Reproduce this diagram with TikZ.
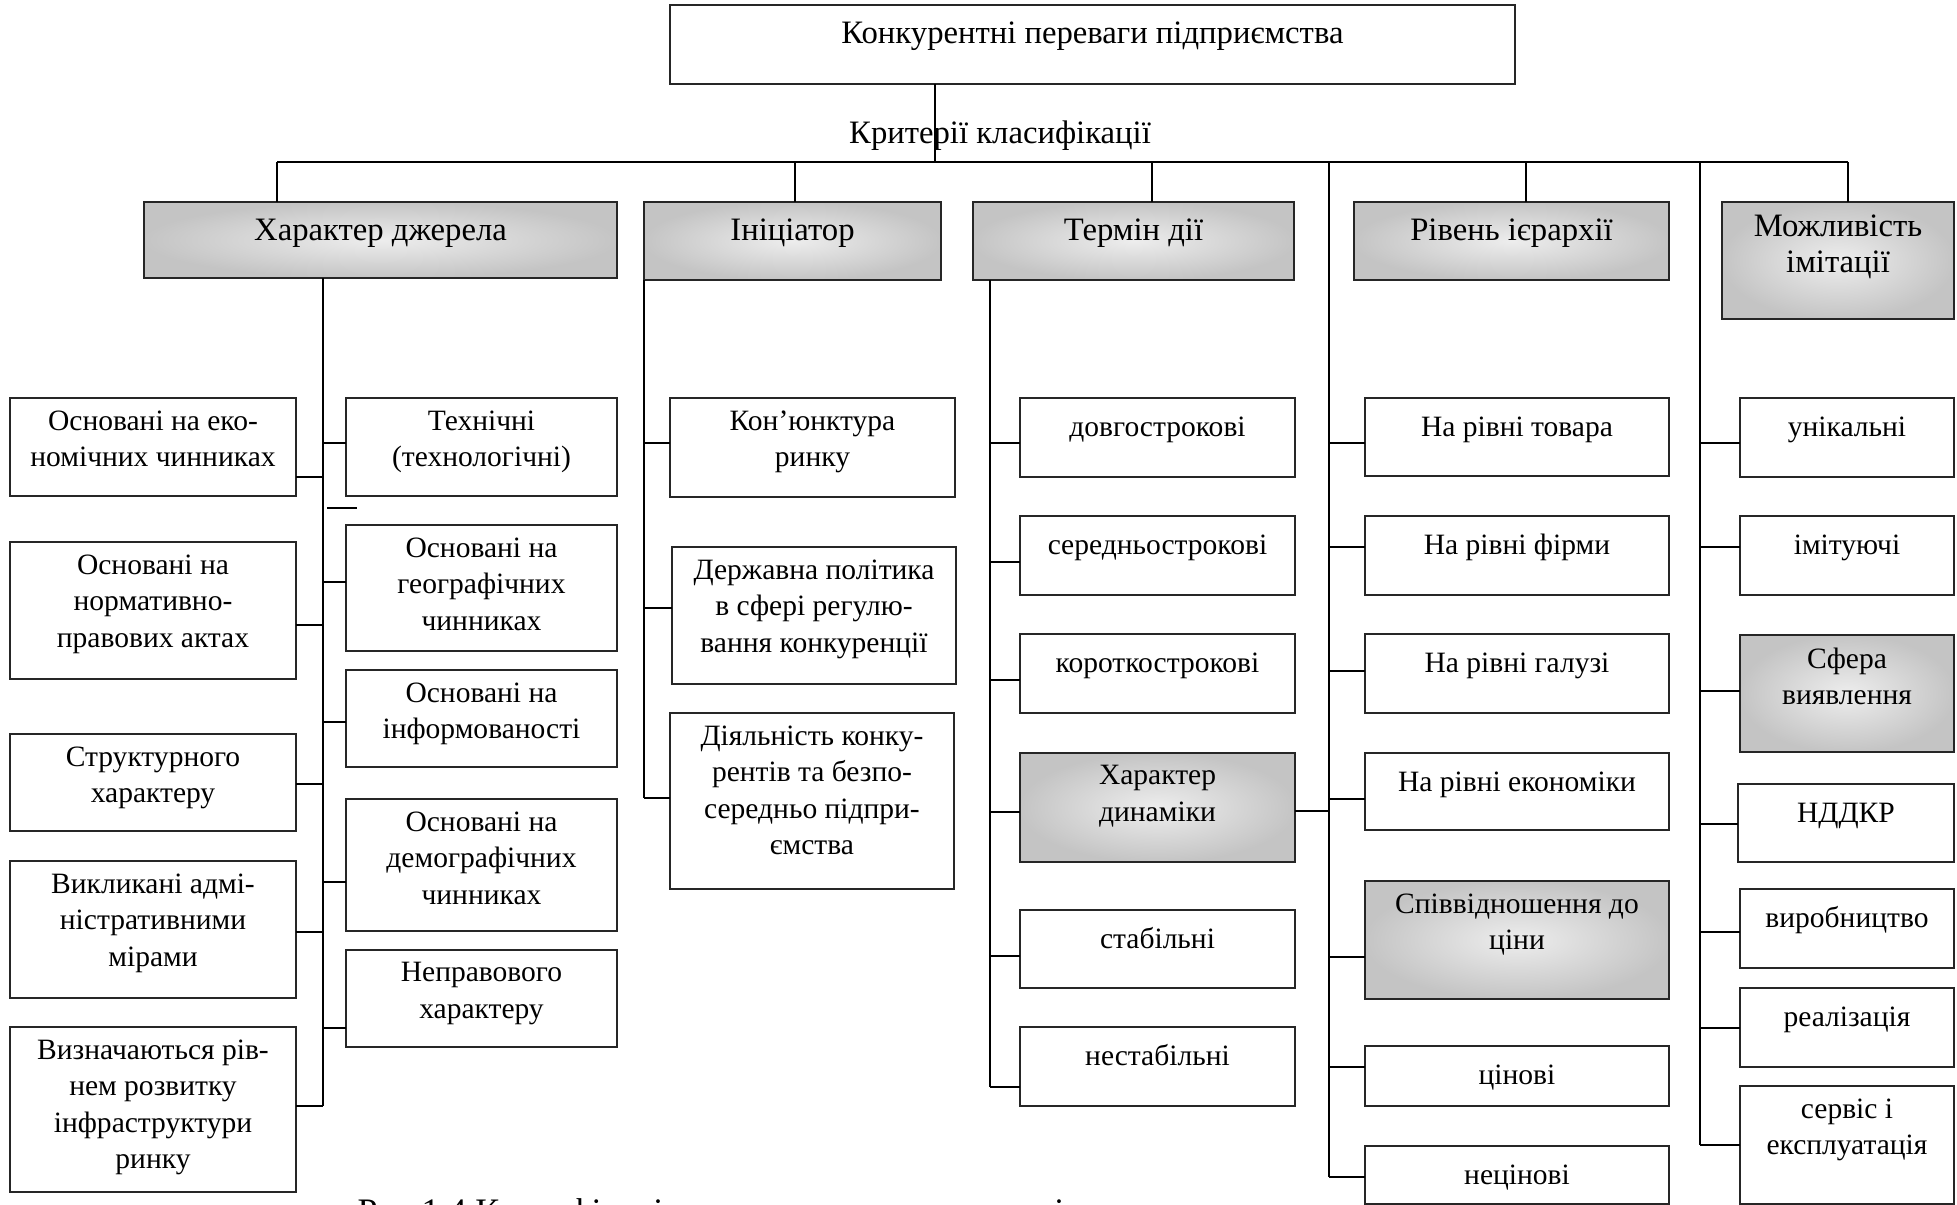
\documentclass[tikz,border=0pt]{standalone}
\usepackage{fontspec}
\setmainfont{Liberation Serif}
\usetikzlibrary{fit}
\tikzset{
  plain/.style={draw=black!85, line width=0.6pt, inner sep=0pt, outer sep=0pt},
  grey/.style={plain, inner color=gray!14, outer color=gray!46},
  txt/.style={font=\fontsize{8.4pt}{10.4pt}\selectfont, align=center, anchor=north,
    inner sep=0pt, yshift=-3.4pt, execute at begin node=\strut},
  htxt/.style={txt, font=\fontsize{9.3pt}{10.4pt}\selectfont},
  conn/.style={line width=0.6pt, black}
}

\begin{document}
\begin{tikzpicture}[x=0.1mm,y=-0.1mm]
  \useasboundingbox (0,0) rectangle (1957,1205);
  \clip (0,0) rectangle (1957,1205);

  % top and criteria
  \node[plain, fit={(670,5) (1515,84)}, label={[htxt]north:{Конкурентні переваги підприємства}}] (top) {};
  \node[font=\fontsize{9.3pt}{10.4pt}\selectfont, anchor=base, inner sep=0pt] (crit) at (1000,143) {Критерії класифікації};

  \node[grey, fit={(144,202) (617,278)}, label={[htxt]north:{Характер джерела}}] (hdr1) {};
  \node[grey, fit={(644,202) (941,280)}, label={[htxt]north:{Ініціатор}}] (hdr2) {};
  \node[grey, fit={(973,202) (1294,280)}, label={[htxt]north:{Термін дії}}] (hdr3) {};
  \node[grey, fit={(1354,202) (1669,280)}, label={[htxt]north:{Рівень ієрархії}}] (hdr4) {};
  \node[grey, fit={(1722,202) (1954,319)}, label={[htxt]north:{Можливість\\імітації}}] (hdr5) {};

  % source
  \node[plain, fit={(10,398) (296,496)}, label={[txt]north:{Основані на еко-\\номічних чинниках}}] (econ) {};
  \node[plain, fit={(10,542) (296,679)}, label={[txt]north:{Основані на\\нормативно-\\правових актах}}] (norm) {};
  \node[plain, fit={(10,734) (296,831)}, label={[txt]north:{Структурного\\характеру}}] (struct) {};
  \node[plain, fit={(10,861) (296,998)}, label={[txt]north:{Викликані адмі-\\ністративними\\мірами}}] (admin) {};
  \node[plain, fit={(10,1027) (296,1192)}, label={[txt]north:{Визначаються рів-\\нем розвитку\\інфраструктури\\ринку}}] (infra) {};
  \node[plain, fit={(346,398) (617,496)}, label={[txt]north:{Технічні\\(технологічні)}}] (tech) {};
  \node[plain, fit={(346,525) (617,651)}, label={[txt]north:{Основані на\\географічних\\чинниках}}] (geo) {};
  \node[plain, fit={(346,670) (617,767)}, label={[txt]north:{Основані на\\інформованості}}] (inform) {};
  \node[plain, fit={(346,799) (617,931)}, label={[txt]north:{Основані на\\демографічних\\чинниках}}] (demog) {};
  \node[plain, fit={(346,950) (617,1047)}, label={[txt]north:{Неправового\\характеру}}] (neprav) {};

  % initiator
  \node[plain, fit={(670,398) (955,497)}, label={[txt]north:{Кон’юнктура\\ринку}}] (conj) {};
  \node[plain, fit={(672,547) (956,684)}, label={[txt]north:{Державна політика\\в сфері регулю-\\вання конкуренції}}] (state) {};
  \node[plain, fit={(670,713) (954,889)}, label={[txt]north:{Діяльність конку-\\рентів та безпо-\\середньо підпри-\\ємства}}] (compet) {};

  % term
  \node[plain, fit={(1020,398) (1295,477)}, label={[txt]north:{довгострокові}}] (long) {};
  \node[plain, fit={(1020,516) (1295,595)}, label={[txt]north:{середньострокові}}] (mid) {};
  \node[plain, fit={(1020,634) (1295,713)}, label={[txt]north:{короткострокові}}] (short) {};
  \node[grey, fit={(1020,753) (1295,862)}, label={[txt]north:{Характер\\динаміки}}] (dyn) {};
  \node[plain, fit={(1020,910) (1295,988)}, label={[txt]north:{стабільні}}] (stab) {};
  \node[plain, fit={(1020,1027) (1295,1106)}, label={[txt]north:{нестабільні}}] (unstab) {};

  % hierarchy
  \node[plain, fit={(1365,398) (1669,476)}, label={[txt]north:{На рівні товара}}] (prod) {};
  \node[plain, fit={(1365,516) (1669,595)}, label={[txt]north:{На рівні фірми}}] (firm) {};
  \node[plain, fit={(1365,634) (1669,713)}, label={[txt]north:{На рівні галузі}}] (branch) {};
  \node[plain, fit={(1365,753) (1669,830)}, label={[txt]north:{На рівні економіки}}] (econom) {};
  \node[grey, fit={(1365,881) (1669,999)}, label={[txt]north:{Співвідношення до\\ціни}}] (price) {};
  \node[plain, fit={(1365,1046) (1669,1106)}, label={[txt]north:{цінові}}] (pricey) {};
  \node[plain, fit={(1365,1146) (1669,1204)}, label={[txt]north:{нецінові}}] (nonprice) {};

  % imitation
  \node[plain, fit={(1740,398) (1954,477)}, label={[txt]north:{унікальні}}] (uniq) {};
  \node[plain, fit={(1740,516) (1954,595)}, label={[txt]north:{імітуючі}}] (imit) {};
  \node[grey, fit={(1740,635) (1954,752)}, label={[txt]north:{Сфера\\виявлення}}] (sphere) {};
  \node[plain, fit={(1738,784) (1954,862)}, label={[txt]north:{НДДКР}}] (rnd) {};
  \node[plain, fit={(1740,889) (1954,968)}, label={[txt]north:{виробництво}}] (prodn) {};
  \node[plain, fit={(1740,988) (1954,1067)}, label={[txt]north:{реалізація}}] (real) {};
  \node[plain, fit={(1740,1086) (1954,1204)}, label={[txt]north:{сервіс і\\експлуатація}}] (serv) {};

  \node[font=\fontsize{10.2pt}{12pt}\selectfont, anchor=base west, inner sep=0pt] (cap) at (357,1223)
    {Рис 1.4 Класифікація конкурентних переваг підприємства};

  % bus
  \coordinate (bt) at (935,162);
  \coordinate (busL) at (277,162);
  \coordinate (busR) at (1848,162);
  \coordinate (d2) at (795,162);
  \coordinate (d3) at (1152,162);
  \coordinate (d4) at (1526,162);
  \coordinate (sp4) at (1329,162);
  \coordinate (sp5) at (1700,162);
  \draw[conn] (top.south -| bt) -- (bt);
  \draw[conn] (busL) -- (busR);
  \draw[conn] (busL) -- (hdr1.north -| busL);
  \draw[conn] (d2) -- (hdr2.north -| d2);
  \draw[conn] (d3) -- (hdr3.north -| d3);
  \draw[conn] (d4) -- (hdr4.north -| d4);
  \draw[conn] (busR) -- (hdr5.north -| busR);

  % spines
  \coordinate (e1) at (323,1106);
  \coordinate (e2) at (644,798);
  \coordinate (e3) at (990,1087);
  \coordinate (e4) at (1329,1177);
  \coordinate (e5) at (1700,1145);
  \draw[conn] (hdr1.south -| e1) -- (e1);
  \draw[conn] (hdr2.south -| e2) -- (e2);
  \draw[conn] (hdr3.south -| e3) -- (e3);
  \draw[conn] (sp4) -- (e4);
  \draw[conn] (sp5) -- (e5);

  \foreach \n/\y in {tech/443, geo/582, inform/722, demog/882, neprav/1028}
    \draw[conn] (e1 |- 0,\y) -- (\n.west |- 0,\y);
  \foreach \n/\y in {econ/477, norm/625, struct/784, admin/932, infra/1106}
    \draw[conn] (\n.east |- 0,\y) -- (e1 |- 0,\y);
  \draw[conn] (327,508) -- (357,508);
  \foreach \n/\y in {conj/443, state/608, compet/798}
    \draw[conn] (e2 |- 0,\y) -- (\n.west |- 0,\y);
  \foreach \n/\y in {long/443, mid/562, short/680, dyn/812, stab/956, unstab/1087}
    \draw[conn] (e3 |- 0,\y) -- (\n.west |- 0,\y);
  \draw[conn] (dyn.east |- 0,811) -- (e4 |- 0,811);
  \foreach \n/\y in {prod/443, firm/547, branch/671, econom/799, price/957, pricey/1067, nonprice/1177}
    \draw[conn] (e4 |- 0,\y) -- (\n.west |- 0,\y);
  \foreach \n/\y in {uniq/443, imit/547, sphere/691, rnd/824, prodn/932, real/1028, serv/1145}
    \draw[conn] (e5 |- 0,\y) -- (\n.west |- 0,\y);
\end{tikzpicture}
\end{document}
